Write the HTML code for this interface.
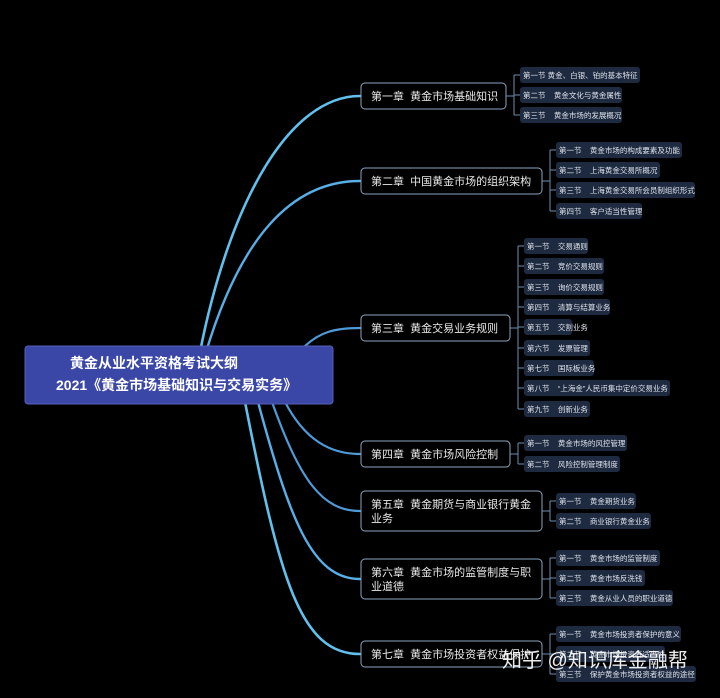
<!DOCTYPE html>
<html><head><meta charset="utf-8"><style>
body{margin:0;background:#000;}
svg text{font-family:"Liberation Sans","Noto Sans CJK SC",sans-serif;white-space:pre;}
</style></head><body>
<svg width="720" height="693" viewBox="0 0 720 693" xmlns="http://www.w3.org/2000/svg" xml:space="preserve">
<rect width="720" height="693" fill="#000"/>
<g fill="none" stroke-linecap="round">
<path d="M200,352 C230,200 290,96 360,96" stroke="#62c0ec" stroke-width="2.6"/>
<path d="M206,352 C240,240 290,181 360,181" stroke="#58aee6" stroke-width="2.4"/>
<path d="M305,346 C320,332 335,328 360,328" stroke="#4f9ad8" stroke-width="2.2"/>
<path d="M285,402 C305,440 330,454 360,454" stroke="#4f9ad8" stroke-width="2.2"/>
<path d="M272,402 C300,480 322,511 360,511" stroke="#4f9ad8" stroke-width="2.2"/>
<path d="M258,402 C290,520 312,579 360,579" stroke="#58aee6" stroke-width="2.4"/>
<path d="M245,402 C280,580 300,654 360,654" stroke="#62c0ec" stroke-width="2.6"/>
</g>
<rect x="25" y="346" width="308" height="58" rx="3" fill="#3a47a6" stroke="#5560b8"/>
<text x="70" y="368" font-size="14" font-weight="bold" fill="#fff">黄金从业水平资格考试大纲</text>
<text x="56" y="390" font-size="14" font-weight="bold" fill="#fff">2021《黄金市场基础知识与交易实务》</text>
<g fill="#000" stroke="#8aa6c2" stroke-width="1">
<rect x="361" y="83" width="145" height="26" rx="4"/>
<rect x="361" y="168" width="181" height="26" rx="4"/>
<rect x="361" y="315" width="149" height="26" rx="4"/>
<rect x="361" y="441" width="149" height="26" rx="4"/>
<rect x="361" y="491" width="181" height="40" rx="4"/>
<rect x="361" y="559" width="181" height="40" rx="4"/>
<rect x="361" y="641" width="181" height="26" rx="4"/>
</g>
<g font-size="11" fill="#e8e8e8">
<text x="371" y="100">第一章  黄金市场基础知识</text>
<text x="371" y="185">第二章  中国黄金市场的组织架构</text>
<text x="371" y="332">第三章  黄金交易业务规则</text>
<text x="371" y="458">第四章  黄金市场风险控制</text>
<text x="371" y="508">第五章  黄金期货与商业银行黄金</text>
<text x="371" y="522">业务</text>
<text x="371" y="576">第六章  黄金市场的监管制度与职</text>
<text x="371" y="590">业道德</text>
<text x="371" y="658">第七章  黄金市场投资者权益保护</text>
</g>
<g fill="none" stroke="#6d8fb0" stroke-width="1">
<path d="M506,96 H514 M514,75 V115 M514,75 H520 M514,115 H520 M514,95 H520"/>
<path d="M542,181 H550 M550,150 V211 M550,150 H556 M550,170 H556 M550,190 H556 M550,211 H556"/>
<path d="M510,328 H518 M518,246 V409 M518,246 H524 M518,266 H524 M518,287 H524 M518,307 H524 M518,327 H524 M518,348 H524 M518,368 H524 M518,388 H524 M518,409 H524"/>
<path d="M510,454 H518 M518,443 V464 M518,443 H524 M518,464 H524"/>
<path d="M542,511 H550 M550,501 V521 M550,501 H556 M550,521 H556"/>
<path d="M542,579 H550 M550,558 V598 M550,558 H556 M550,578 H556 M550,598 H556"/>
<path d="M542,654 H550 M550,634 V674 M550,634 H556 M550,654 H556 M550,674 H556"/>
</g>
<g fill="#1e2a40">
<rect x="520" y="67" width="120" height="16" rx="3"/>
<rect x="520" y="87" width="102" height="16" rx="3"/>
<rect x="520" y="107" width="102" height="16" rx="3"/>
<rect x="556" y="142" width="126" height="16" rx="3"/>
<rect x="556" y="162" width="104" height="16" rx="3"/>
<rect x="556" y="182" width="139" height="16" rx="3"/>
<rect x="556" y="203" width="86" height="16" rx="3"/>
<rect x="524" y="238" width="64" height="16" rx="3"/>
<rect x="524" y="258" width="80" height="16" rx="3"/>
<rect x="524" y="279" width="80" height="16" rx="3"/>
<rect x="524" y="299" width="86" height="16" rx="3"/>
<rect x="524" y="319" width="48" height="16" rx="3"/>
<rect x="524" y="340" width="66" height="16" rx="3"/>
<rect x="524" y="360" width="70" height="16" rx="3"/>
<rect x="524" y="380" width="146" height="16" rx="3"/>
<rect x="524" y="401" width="66" height="16" rx="3"/>
<rect x="524" y="435" width="103" height="16" rx="3"/>
<rect x="524" y="456" width="96" height="16" rx="3"/>
<rect x="556" y="493" width="80" height="16" rx="3"/>
<rect x="556" y="513" width="95" height="16" rx="3"/>
<rect x="556" y="550" width="104" height="16" rx="3"/>
<rect x="556" y="570" width="89" height="16" rx="3"/>
<rect x="556" y="590" width="117" height="16" rx="3"/>
<rect x="556" y="626" width="125" height="16" rx="3"/>
<rect x="556" y="646" width="109" height="16" rx="3"/>
<rect x="556" y="666" width="140" height="16" rx="3"/>
</g>
<g font-size="7.5" fill="#dfe4ec">
<text x="523" y="78">第一节 黄金、白银、铂的基本特征</text>
<text x="523" y="98">第二节    黄金文化与黄金属性</text>
<text x="523" y="118">第三节    黄金市场的发展概况</text>
<text x="559" y="153">第一节    黄金市场的构成要素及功能</text>
<text x="559" y="173">第二节    上海黄金交易所概况</text>
<text x="559" y="193">第三节    上海黄金交易所会员制组织形式</text>
<text x="559" y="214">第四节    客户适当性管理</text>
<text x="527" y="249">第一节    交易通则</text>
<text x="527" y="269">第二节    竞价交易规则</text>
<text x="527" y="290">第三节    询价交易规则</text>
<text x="527" y="310">第四节    清算与结算业务</text>
<text x="527" y="330">第五节    交割业务</text>
<text x="527" y="351">第六节    发票管理</text>
<text x="527" y="371">第七节    国际板业务</text>
<text x="527" y="391">第八节    “上海金”人民币集中定价交易业务</text>
<text x="527" y="412">第九节    创新业务</text>
<text x="527" y="446">第一节    黄金市场的风控管理</text>
<text x="527" y="467">第二节    风险控制管理制度</text>
<text x="559" y="504">第一节    黄金期货业务</text>
<text x="559" y="524">第二节    商业银行黄金业务</text>
<text x="559" y="561">第一节    黄金市场的监管制度</text>
<text x="559" y="581">第二节    黄金市场反洗钱</text>
<text x="559" y="601">第三节    黄金从业人员的职业道德</text>
<text x="559" y="637">第一节    黄金市场投资者保护的意义</text>
<text x="559" y="657">第二节    黄金市场投资者适当性</text>
<text x="559" y="677">第三节    保护黄金市场投资者权益的途径</text>
</g>
<text x="502" y="667" font-size="20" fill="#fff" fill-opacity="0.92">知乎 @知识库金融帮</text>
</svg>
</body></html>
